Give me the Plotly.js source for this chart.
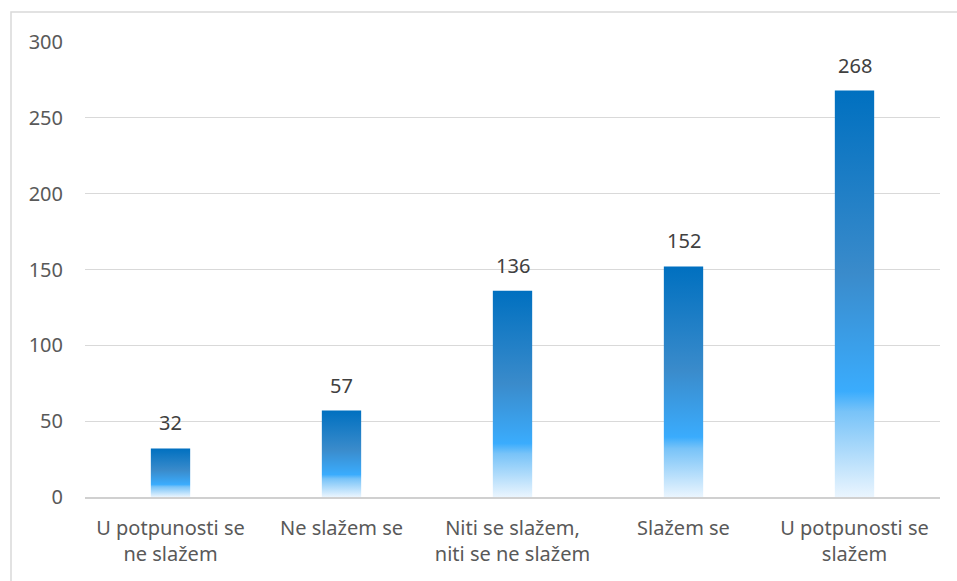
<!DOCTYPE html>
<html>
<head>
<meta charset="utf-8">
<script src="https://cdn.plot.ly/plotly-3.0.1.min.js"></script>
<style>
  body { margin: 0; background: #fff; }
  #chart { width: 957px; height: 581px; }
</style>
</head>
<body>
<div id="chart"></div>
<script>
// answer categories and counts
let categories = ["U potpunosti se<br>ne slažem", "Ne slažem se", "Niti se slažem,<br>niti se ne slažem", "Slažem se", "U potpunosti se<br>slažem"];
let counts = [32, 57, 136, 152, 268];
let yTicks = [0, 50, 100, 150, 200, 250, 300];

let trace = {
    x: categories,
    y: counts,
    type: 'bar',
    marker: { color: '#0070c0', line: { width: 0 } },
    hoverinfo: 'none'
};

// value labels above the bars
let labels = categories.map(function (c, i) {
    return {
        x: c, y: counts[i], xref: 'x', yref: 'y',
        text: String(counts[i]),
        showarrow: false,
        yanchor: 'bottom',
        yshift: 10,
        font: { family: '"Noto Sans", sans-serif', size: 20, color: '#404040' }
    };
});

let layout = {
    width: 957,
    height: 581,
    margin: { l: 85, r: 17, t: 42, b: 84 },
    paper_bgcolor: '#ffffff',
    plot_bgcolor: '#ffffff',
    showlegend: false,
    bargap: 0.77,
    font: { family: '"Noto Sans", sans-serif', size: 20, color: '#595959' },
    xaxis: {
        showgrid: false,
        showline: true,
        linecolor: '#d0d0d0',
        linewidth: 1.5,
        ticks: '',
        ticklabelstandoff: 12,
        tickfont: { size: 20, color: '#595959' }
    },
    yaxis: {
        range: [0, 300],
        tickvals: yTicks,
        showgrid: true,
        gridcolor: '#d9d9d9',
        gridwidth: 1,
        zeroline: false,
        showline: false,
        ticks: '',
        ticklabelstandoff: 21,
        tickfont: { size: 20, color: '#595959' }
    },
    annotations: labels,
    shapes: [{
        type: 'rect', xref: 'paper', yref: 'paper',
        x0: (11 - 85) / 855, x1: (960 - 85) / 855,
        y0: -0.25, y1: (497 - 12) / 455,
        line: { color: '#d9d9d9', width: 1.5 },
        fillcolor: 'rgba(0,0,0,0)'
    }]
};

Plotly.newPlot('chart', [trace], layout, { displayModeBar: false, staticPlot: true }).then(function (gd) {
    // Excel style gradient fill for the bars
    let svg = gd.querySelector('.main-svg');
    let ns = 'http://www.w3.org/2000/svg';
    let defs = svg.querySelector('defs');
    let grad = document.createElementNS(ns, 'linearGradient');
    grad.setAttribute('id', 'barGrad');
    grad.setAttribute('x1', '0'); grad.setAttribute('y1', '0');
    grad.setAttribute('x2', '0'); grad.setAttribute('y2', '1');
    let stops = [[0, '#0070c0'], [0.45, '#3a8bcb'], [0.74, '#3aacfd'], [0.79, '#78c3f8'], [1, '#eaf5fe']];
    stops.forEach(function (s) {
        let st = document.createElementNS(ns, 'stop');
        st.setAttribute('offset', s[0]);
        st.setAttribute('stop-color', s[1]);
        grad.appendChild(st);
    });
    defs.appendChild(grad);
    gd.querySelectorAll('.bars .point path').forEach(function (p) {
        p.style.fill = 'url(#barGrad)';
    });
});
</script>
</body>
</html>
